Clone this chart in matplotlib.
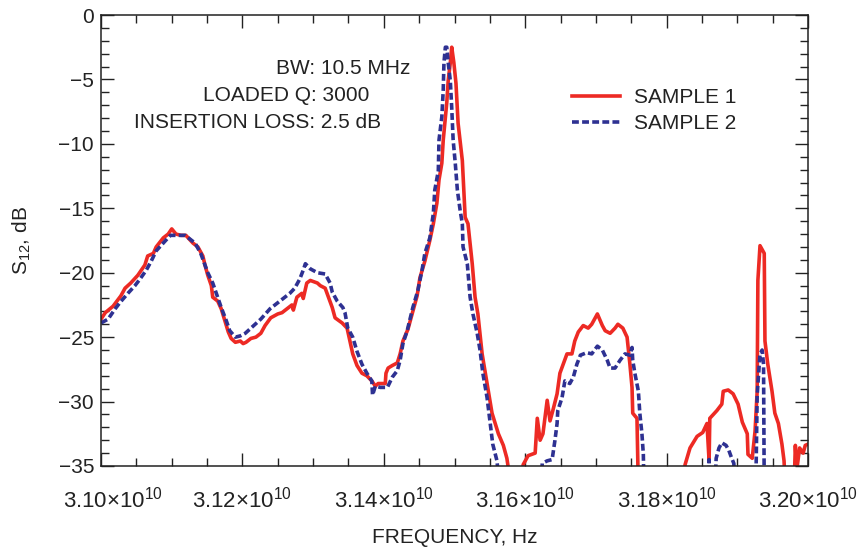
import numpy as np
import matplotlib
matplotlib.use('Agg')
import matplotlib.pyplot as plt
import matplotlib.transforms as mtransforms
from matplotlib.ticker import MultipleLocator

#%% Data (frequency in GHz, S12 in dB; -37 means off the bottom of the plot)
s1_freq = [31.000, 31.006, 31.017, 31.028, 31.034, 31.042, 31.052, 31.062, 31.066, 31.074,
           31.078, 31.088, 31.095, 31.100, 31.106, 31.113, 31.120, 31.130, 31.137, 31.144,
           31.147, 31.151, 31.156, 31.158, 31.165, 31.170, 31.175, 31.180, 31.184, 31.190,
           31.197, 31.201, 31.205, 31.212, 31.219, 31.226, 31.232, 31.240, 31.250, 31.256,
           31.263, 31.270, 31.272, 31.277, 31.284, 31.286, 31.291, 31.296, 31.306, 31.310,
           31.317, 31.321, 31.327, 31.331, 31.341, 31.348, 31.352, 31.356, 31.362, 31.369,
           31.376, 31.383, 31.388, 31.392, 31.402, 31.403, 31.406, 31.412, 31.419, 31.423,
           31.427, 31.434, 31.441, 31.447, 31.451, 31.458, 31.465, 31.470, 31.475, 31.478,
           31.482, 31.484, 31.489, 31.491, 31.494, 31.496, 31.499, 31.502, 31.505, 31.511,
           31.515, 31.519, 31.525, 31.529, 31.533, 31.539, 31.546, 31.553, 31.562, 31.569,
           31.574, 31.581,
           31.595, 31.597, 31.604, 31.614, 31.617, 31.621, 31.625, 31.631, 31.635, 31.639,
           31.645, 31.649, 31.653, 31.659, 31.666, 31.670, 31.675, 31.682, 31.689, 31.694,
           31.702, 31.709, 31.713, 31.720, 31.727, 31.731, 31.738, 31.744, 31.748, 31.751,
           31.752, 31.758, 31.760,
           31.824, 31.826, 31.833, 31.843, 31.851, 31.857, 31.860, 31.861, 31.871, 31.878,
           31.880, 31.887, 31.894, 31.901, 31.907, 31.914, 31.915, 31.921, 31.925, 31.928,
           31.929, 31.932, 31.938, 31.939, 31.943, 31.949, 31.953, 31.958, 31.963, 31.966,
           31.968,
           31.980, 31.982, 31.984, 31.988, 31.993, 31.996, 32.000]
s1_db = [-23.6, -23.1, -22.6, -21.8, -21.2, -20.8, -20.2, -19.4, -18.7, -18.5,
         -18.0, -17.3, -17.0, -16.6, -17.0, -17.1, -17.1, -17.7, -18.0, -18.7,
         -19.4, -20.2, -21.0, -21.9, -22.2, -22.8, -23.7, -24.6, -25.1, -25.4,
         -25.3, -25.5, -25.4, -25.1, -25.0, -24.7, -24.1, -23.5, -23.2, -23.1,
         -22.8, -22.5, -22.9, -21.9, -21.6, -22.0, -20.8, -20.6, -20.8, -21.0,
         -21.2, -21.8, -22.7, -23.5, -23.9, -24.3, -25.3, -26.3, -27.2, -27.8,
         -28.0, -28.4, -28.8, -28.6, -28.6, -27.8, -27.4, -27.2, -27.0, -26.3,
         -25.3, -24.4, -23.0, -21.8, -20.4, -19.1, -17.5, -16.2, -14.6, -12.8,
         -11.5, -9.7, -6.8, -5.1, -3.7, -2.5, -3.7, -5.3, -8.4, -11.3,
         -15.7, -16.2, -19.3, -21.9, -23.2, -26.3, -28.6, -30.9, -32.5, -33.4,
         -34.4, -37,
         -37, -34.9, -34.2, -34.0, -31.3, -33.0, -32.5, -29.9, -31.5, -30.7,
         -29.4, -27.8, -27.2, -26.3, -26.3, -25.3, -24.6, -24.1, -24.3, -24.0,
         -23.2, -24.1, -24.5, -24.7, -24.3, -24.0, -24.3, -25.0, -27.1, -28.9,
         -30.9, -31.3, -37,
         -37, -34.9, -33.6, -32.7, -32.4, -31.7, -34.6, -31.3, -30.7, -30.2,
         -29.2, -29.1, -29.4, -30.2, -31.6, -32.5, -34.1, -34.4, -32.3, -29.2,
         -20.6, -17.9, -18.5, -25.3, -27.1, -29.2, -30.9, -31.7, -33.3, -34.6,
         -37,
         -37, -33.4, -35.3, -33.6, -34.0, -33.4, -33.3]

s2_freq = [31.000, 31.010, 31.020, 31.027, 31.038, 31.048, 31.055, 31.064, 31.071, 31.078,
           31.088, 31.098, 31.106, 31.119, 31.133, 31.141, 31.151, 31.158, 31.163, 31.170,
           31.177, 31.182, 31.190, 31.197, 31.204, 31.212, 31.226, 31.239, 31.253, 31.267,
           31.274, 31.281, 31.286, 31.289, 31.296, 31.306, 31.317, 31.324, 31.327, 31.334,
           31.342, 31.345, 31.349, 31.356, 31.362, 31.369, 31.376, 31.383, 31.384, 31.388,
           31.395, 31.405, 31.412, 31.419, 31.423, 31.427, 31.433, 31.441, 31.448, 31.454,
           31.458, 31.465, 31.470, 31.472, 31.477, 31.478, 31.482, 31.484, 31.485, 31.487,
           31.489, 31.491, 31.494, 31.496, 31.498, 31.501, 31.504, 31.508, 31.511, 31.512,
           31.518, 31.522, 31.526, 31.532, 31.536, 31.540, 31.546, 31.550, 31.554, 31.560,
           31.564,
           31.622, 31.624, 31.631, 31.638, 31.642, 31.645, 31.646, 31.652, 31.656, 31.663,
           31.668, 31.673, 31.678, 31.687, 31.694, 31.702, 31.709, 31.716, 31.720, 31.727,
           31.734, 31.741, 31.748, 31.751, 31.752, 31.755, 31.760, 31.762, 31.765, 31.767,
           31.768,
           31.859, 31.860, 31.861,
           31.868, 31.870, 31.874, 31.878, 31.884, 31.888, 31.892, 31.895, 31.897,
           31.926, 31.928, 31.932, 31.935, 31.937, 31.938]
s2_db = [-23.9, -23.6, -22.8, -22.3, -21.6, -21.0, -20.5, -19.8, -19.1, -18.3,
         -17.7, -17.1, -17.1, -17.1, -17.7, -18.5, -20.0, -20.8, -21.6, -22.7,
         -23.7, -24.5, -25.0, -24.9, -24.7, -24.3, -23.6, -22.8, -22.2, -21.6,
         -21.2, -20.5, -19.8, -19.3, -19.7, -20.0, -20.1, -20.8, -21.5, -22.2,
         -22.7, -23.1, -24.3, -25.0, -26.1, -27.1, -27.8, -28.4, -29.5, -28.8,
         -28.9, -28.9, -28.1, -27.6, -26.8, -25.5, -24.5, -22.7, -21.4, -19.8,
         -18.5, -17.3, -15.4, -13.6, -12.1, -9.7, -7.9, -5.8, -3.7, -2.5,
         -2.5, -3.7, -5.1, -7.2, -9.7, -11.5, -13.6, -15.2, -16.2, -18.0,
         -19.3, -21.9, -23.2, -24.7, -26.0, -27.8, -29.7, -31.5, -33.3, -34.6,
         -37,
         -37, -34.8, -34.6, -34.5, -33.0, -31.7, -30.7, -29.7, -28.4, -28.6,
         -28.1, -27.1, -26.4, -26.2, -26.3, -25.7, -26.0, -26.8, -27.4, -27.4,
         -26.8, -26.3, -26.4, -25.8, -26.8, -27.8, -29.2, -30.9, -32.5, -34.1,
         -37,
         -37, -34.5, -37,
         -37, -34.4, -33.6, -33.2, -33.4, -33.8, -34.4, -34.8, -37,
         -37, -29.5, -26.3, -26.0, -27.1, -37]

xticks = [3.10e10, 3.12e10, 3.14e10, 3.16e10, 3.18e10, 3.20e10]
xtick_labels = [r'$3.10{\times}10^{10}$', r'$3.12{\times}10^{10}$', r'$3.14{\times}10^{10}$',
                r'$3.16{\times}10^{10}$', r'$3.18{\times}10^{10}$', r'$3.20{\times}10^{10}$']
yticks = [0, -5, -10, -15, -20, -25, -30, -35]
notes = ['BW: 10.5 MHz', 'LOADED Q: 3000', 'INSERTION LOSS: 2.5 dB']

#%% Figure
plt.rcParams['font.family'] = ['Liberation Sans', 'DejaVu Sans']
plt.rcParams['mathtext.fontset'] = 'custom'
plt.rcParams['mathtext.rm'] = 'Liberation Sans'
plt.rcParams['mathtext.default'] = 'regular'
plt.rcParams['axes.unicode_minus'] = True

red = '#ED2A24'
blue = '#2E3192'
fs = 15

fig = plt.figure(figsize=(8.65, 5.52), dpi=100)
ax = fig.add_axes([0.1168, 0.1558, 0.8174, 0.817])

ax.plot(np.array(s1_freq)*1e9, s1_db, color=red, lw=2.6, label='SAMPLE 1')
ax.plot(np.array(s2_freq)*1e9, s2_db, color=blue, lw=2.6,
        linestyle=(0, (1.9, 0.9)), label='SAMPLE 2')

ax.set_xlim(3.10e10, 3.20e10)
ax.set_ylim(-35, 0)
ax.set_xticks(xticks, xtick_labels)
ax.set_yticks(yticks)
ax.xaxis.set_minor_locator(MultipleLocator(0.005e10))
ax.yaxis.set_minor_locator(MultipleLocator(1))
ax.tick_params(which='both', direction='in', top=True, right=True,
               width=1.0, color='#222222', labelsize=fs, labelcolor='#222222')
ax.tick_params(which='major', length=9.5)
ax.tick_params(which='minor', length=5.5)
ax.tick_params(axis='x', which='major', pad=15, labelsize=16)
ax.tick_params(axis='y', which='major', pad=5)
for s in ax.spines.values():
    s.set_linewidth(1.1)
    s.set_color('#222222')

# first x label sits a little to the right, clear of the y axis
lab0 = ax.get_xticklabels()[0]
lab0.set_transform(lab0.get_transform() +
                   mtransforms.ScaledTranslation(12/100, 0, fig.dpi_scale_trans))

ax.set_xlabel('FREQUENCY, Hz', fontsize=fs, color='#222222', labelpad=11)
ax.set_ylabel('S$_{12}$, dB', fontsize=fs, color='#222222', labelpad=18)

for txt, x, y in zip(notes, [0.2475, 0.1443, 0.0467], [0.881, 0.821, 0.761]):
    ax.text(x, y, txt, transform=ax.transAxes, fontsize=fs, color='#222222',
            ha='left', va='center')

ax.legend(loc='upper left', bbox_to_anchor=(0.666, 0.838), frameon=False,
          fontsize=fs, borderpad=0, borderaxespad=0, handlelength=2.3,
          handletextpad=0.7, labelspacing=0.35, labelcolor='#222222')

fig.savefig('out.png', dpi=100, facecolor='w')
